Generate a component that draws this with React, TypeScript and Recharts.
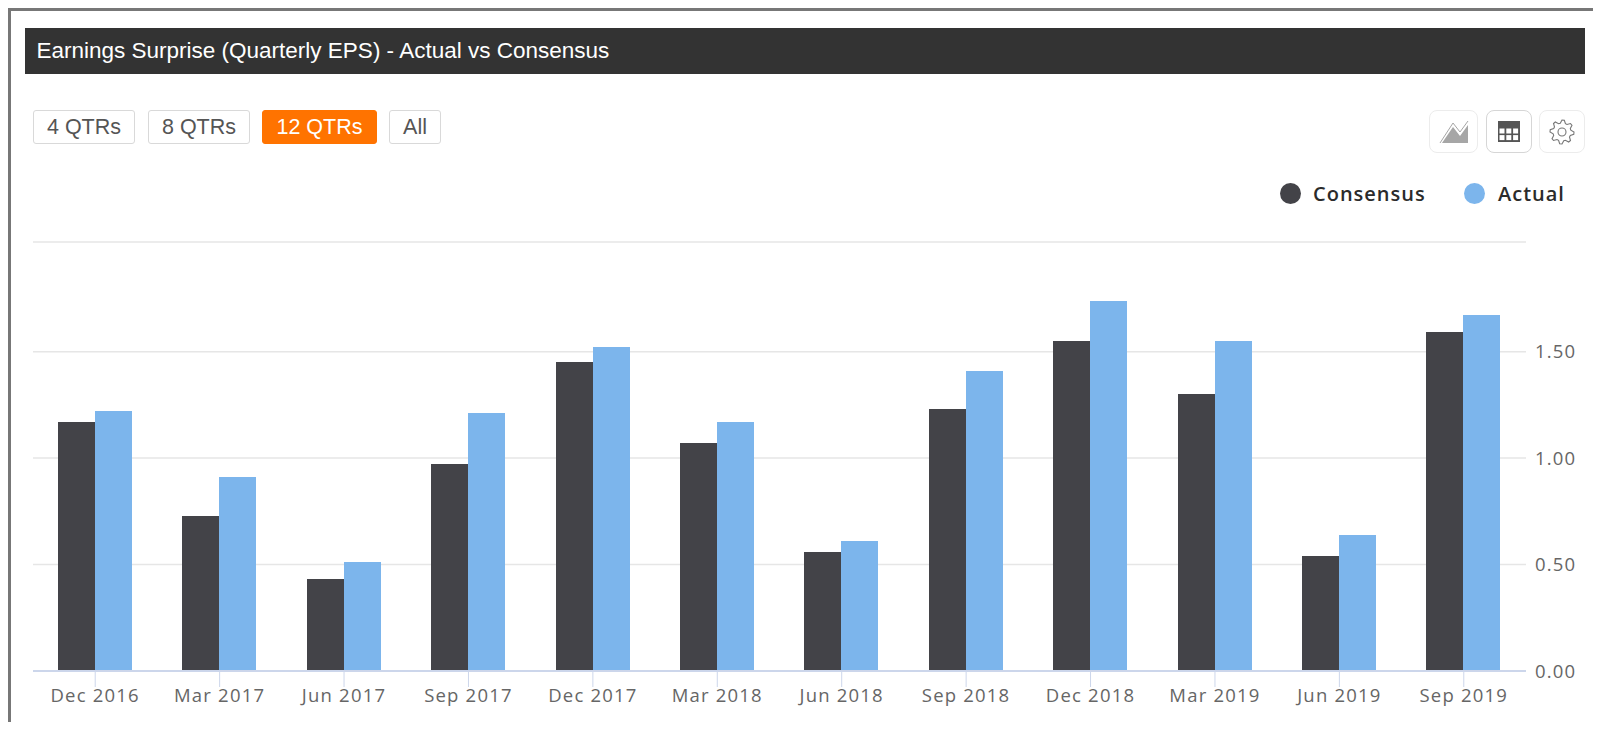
import React from 'react';
import { BarChart, Bar, XAxis, YAxis, CartesianGrid, Legend } from 'recharts';

const QUARTERS = [
  'Dec 2016', 'Mar 2017', 'Jun 2017', 'Sep 2017', 'Dec 2017', 'Mar 2018',
  'Jun 2018', 'Sep 2018', 'Dec 2018', 'Mar 2019', 'Jun 2019', 'Sep 2019',
];
const CONSENSUS = [1.17, 0.73, 0.43, 0.97, 1.45, 1.07, 0.56, 1.23, 1.55, 1.3, 0.54, 1.59];
const ACTUAL = [1.22, 0.91, 0.51, 1.21, 1.52, 1.17, 0.61, 1.41, 1.74, 1.55, 0.64, 1.67];
// top gridline sits slightly above the 2.00 spacing in the picture
const Y_TOP = 2.015;
const Y_TICKS = [0, 0.5, 1, 1.5, Y_TOP];
const RANGE_BUTTONS = ['4 QTRs', '8 QTRs', '12 QTRs', 'All'];

const chartData = QUARTERS.map((quarter, i) => ({
  quarter,
  consensus: CONSENSUS[i],
  actual: ACTUAL[i],
}));

const CHART_FONT = '"Open Sans", sans-serif';
const UI_FONT = '"Liberation Sans", Arial, sans-serif';

const buttonBoxes = [
  { left: 33, width: 102 },
  { left: 148, width: 102 },
  { left: 262, width: 115 },
  { left: 389, width: 52 },
];

function RangeButtons() {
  return (
    <>
      {RANGE_BUTTONS.map((label, i) => {
        const active = label === '12 QTRs';
        return (
          <div
            key={label}
            style={{
              position: 'absolute',
              top: 110,
              height: 34,
              left: buttonBoxes[i].left,
              width: buttonBoxes[i].width,
              boxSizing: 'border-box',
              border: active ? '1px solid #ff7300' : '1px solid #d9d9d9',
              borderRadius: 3,
              background: active ? '#ff7300' : '#fff',
              color: active ? '#fff' : '#555',
              fontFamily: UI_FONT,
              fontSize: 21.5,
              lineHeight: '32px',
              textAlign: 'center',
            }}
          >
            {label}
          </div>
        );
      })}
    </>
  );
}

const iconBox: React.CSSProperties = {
  position: 'absolute',
  top: 110,
  height: 43,
  boxSizing: 'border-box',
  border: '1px solid #ececec',
  borderRadius: 8,
  background: '#fff',
};

function gearPath() {
  const pts: string[] = [];
  for (let i = 0; i < 32; i++) {
    const a = (i / 32) * Math.PI * 2;
    const r = i % 4 < 2 ? 12 : 9;
    pts.push(`${(12 + r * Math.cos(a)).toFixed(2)},${(12 + r * Math.sin(a)).toFixed(2)}`);
  }
  return pts.join(' ');
}

function ToolIcons() {
  return (
    <>
      <div style={{ ...iconBox, left: 1429, width: 49 }}>
        <svg width="47" height="41">
          <path d="M12 32 L23 16 L30 25 L38 14 L38 32 Z" fill="#a6a6a6" />
          <path d="M10 32 L23 12 L30 21 L38 10" fill="none" stroke="#a6a6a6" strokeWidth="1" />
        </svg>
      </div>
      <div style={{ ...iconBox, left: 1486, width: 46, borderColor: '#d6d6d6' }}>
        <svg width="44" height="41">
          <rect x="11" y="10" width="22" height="21" fill="#555" />
          {[0, 1, 2].map((c) =>
            [0, 1].map((r) => (
              <rect key={`${c}-${r}`} x={12.5 + c * 6.8} y={17.5 + r * 6.6} width="5" height="5" fill="#fff" />
            )),
          )}
        </svg>
      </div>
      <div style={{ ...iconBox, left: 1539, width: 46 }}>
        <svg width="44" height="41">
          <g transform="translate(10 9)">
            <polygon points={gearPath()} fill="none" stroke="#777" strokeWidth="1.1" />
            <circle cx="12" cy="12" r="4" fill="none" stroke="#777" strokeWidth="1.1" />
          </g>
        </svg>
      </div>
    </>
  );
}

function ChartLegend({ payload }: any) {
  const slots = [
    { dot: 1290, text: 1313 },
    { dot: 1474, text: 1498 },
  ];
  return (
    <div style={{ position: 'relative', width: 1600, height: 40 }}>
      {(payload || []).map((entry: any, i: number) => (
        <React.Fragment key={entry.value}>
          <span
            style={{
              position: 'absolute',
              left: slots[i].dot - 10.5,
              top: 9.5,
              width: 21,
              height: 21,
              borderRadius: '50%',
              background: entry.color,
            }}
          />
          <span
            style={{
              position: 'absolute',
              left: slots[i].text,
              top: 6,
              lineHeight: '30px',
              fontFamily: CHART_FONT,
              fontSize: 20,
              fontWeight: 600,
              letterSpacing: 1,
              color: '#2b2b2b',
            }}
          >
            {entry.value}
          </span>
        </React.Fragment>
      ))}
    </div>
  );
}

export default function App() {
  return (
    <div style={{ position: 'absolute', left: 0, top: 0, width: 1600, height: 729, background: '#fff', overflow: 'hidden' }}>
      {/* card frame, soft shadow on the top and left edges only */}
      <div
        style={{
          position: 'absolute',
          left: 8,
          top: 8,
          width: 1585,
          height: 714,
          boxSizing: 'border-box',
          borderTop: '3px solid #777',
          borderLeft: '3px solid #777',
          filter: 'blur(0.7px)',
        }}
      />
      <div
        style={{
          position: 'absolute',
          left: 24.5,
          top: 28,
          width: 1560.5,
          height: 46,
          background: '#333',
          color: '#fff',
          fontFamily: UI_FONT,
          fontSize: 22.5,
          lineHeight: '46px',
          paddingLeft: 12,
          boxSizing: 'border-box',
        }}
      >
        Earnings Surprise (Quarterly EPS) - Actual vs Consensus
      </div>
      <RangeButtons />
      <ToolIcons />
      <div style={{ position: 'absolute', left: 0, top: 0 }}>
        <BarChart
          width={1600}
          height={729}
          data={chartData}
          margin={{ top: 242, right: 0, bottom: 0, left: 33 }}
          barCategoryGap="20%"
          barGap={0}
        >
          <CartesianGrid horizontal vertical={false} stroke="#e6e6e6" strokeWidth={1.5} />
          <XAxis
            dataKey="quarter"
            height={58}
            interval={0}
            axisLine={{ stroke: '#ccd6eb', strokeWidth: 2 }}
            tickLine={{ stroke: '#ccd6eb', strokeWidth: 1 }}
            tickSize={16}
            tickMargin={2}
            tick={{ fill: '#666', fontSize: 18.5, fontFamily: CHART_FONT, letterSpacing: 1.2 }}
          />
          <YAxis
            orientation="right"
            width={74}
            domain={[0, Y_TOP]}
            ticks={Y_TICKS}
            axisLine={false}
            tickLine={false}
            tickMargin={3}
            tickFormatter={(v: number) => (v === Y_TOP ? '' : v.toFixed(2))}
            tick={{ fill: '#666', fontSize: 18.5, fontFamily: CHART_FONT, letterSpacing: 1.2 }}
          />
          <Legend
            layout="horizontal"
            verticalAlign="middle"
            align="center"
            itemSorter={null}
            wrapperStyle={{ position: 'absolute', left: 0, top: 173, width: 1600, height: 40 }}
            content={ChartLegend}
          />
          <Bar dataKey="consensus" name="Consensus" fill="#434348" shapeRendering="crispEdges" isAnimationActive={false} />
          <Bar dataKey="actual" name="Actual" fill="#7cb5ec" shapeRendering="crispEdges" isAnimationActive={false} />
        </BarChart>
      </div>
    </div>
  );
}
